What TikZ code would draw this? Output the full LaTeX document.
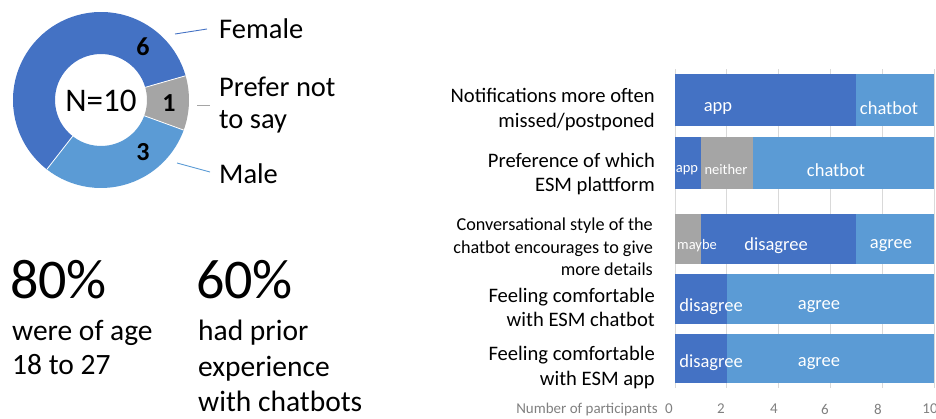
\documentclass[tikz,border=0pt]{standalone}
\usepackage{fontspec}
\setmainfont{Carlito}
\definecolor{dblue}{HTML}{4472C4}
\definecolor{lblue}{HTML}{5B9BD5}
\definecolor{gry}{HTML}{A5A5A5}
\definecolor{gridc}{HTML}{D9D9D9}
\definecolor{axtxt}{HTML}{808080}
\begin{document}
\begin{tikzpicture}[x=1pt,y=-1pt,
  qlab/.style={anchor=base east,inner sep=0pt,font=\fontsize{20.6}{24}\selectfont},
  qlabs/.style={anchor=base east,inner sep=0pt,font=\fontsize{18.2}{22}\selectfont},
  bt/.style={text=white,inner sep=0pt,font=\fontsize{18.5}{22}\selectfont},
  bts/.style={text=white,inner sep=0pt,font=\fontsize{14.5}{17}\selectfont},
  axn/.style={text=axtxt,inner sep=0pt,font=\fontsize{15}{17}\selectfont},
  leg/.style={anchor=base west,inner sep=0pt,font=\fontsize{28.5}{32}\selectfont},
  big/.style={anchor=base west,inner sep=0pt,font=\fontsize{56}{62}\selectfont},
  mid/.style={anchor=base west,inner sep=0pt,font=\fontsize{29.5}{34}\selectfont},
  num/.style={inner sep=0pt,font=\fontsize{26}{30}\selectfont\bfseries},
  gridline/.style={draw=gridc,line width=0.8pt},
  leader/.style={line width=0.9pt}]
\useasboundingbox (0,0) rectangle (936,418);

% ---------------- donut ----------------
\begin{scope}[shift={(101,100)},yscale=-1]
  \fill[dblue] (16:88) arc[start angle=16,end angle=232,radius=88]
     -- (232:46) arc[start angle=232,end angle=16,radius=46] -- cycle;
  \fill[lblue] (232:88) arc[start angle=232,end angle=340,radius=88]
     -- (340:46) arc[start angle=340,end angle=232,radius=46] -- cycle;
  \fill[gry] (340:88) arc[start angle=340,end angle=376,radius=88]
     -- (16:46) arc[start angle=376,end angle=340,radius=46] -- cycle;
  \draw[white,line width=0.8pt] (16:46) -- (16:88) (232:46) -- (232:88) (340:46) -- (340:88);
\end{scope}
\node[inner sep=0pt,font=\fontsize{33}{38}\selectfont] (n10) at (101,101) {N=10};
\node[num] (n6) at (143,47) {6};
\node[num] (n1) at (169,103) {1};
\node[num] (n3) at (143,152) {3};

\node[leg] (fem) at (219,38) {Female};
\node[leg] (pref1) at (219,96) {Prefer not};
\node[leg] (pref2) at (219,128) {to say};
\node[leg] (male) at (219,183) {Male};

\coordinate (fa) at (175,34); \coordinate (fb) at (207,29);
\coordinate (pa) at (197,105); \coordinate (pb) at (210,105);
\coordinate (ma) at (177,163); \coordinate (mb) at (210,172);
\draw[leader,dblue] (fa) -- (fb);
\draw[leader,gry] (pa) -- (pb);
\draw[leader,lblue] (ma) -- (mb);

% ---------------- stats ----------------
\node[big] (p80) at (10,298) {80\%};
\node[mid] (a1) at (12,340) {were of age};
\node[mid] (a2) at (12,374) {18 to 27};
\node[big] (p60) at (196,298) {60\%};
\node[mid] (c1) at (198,340) {had prior};
\node[mid] (c2) at (198,376) {experience};
\node[mid] (c3) at (198,411) {with chatbots};

% ---------------- bar chart ----------------
\begin{scope}[shift={(675,0)},x=25.9pt]
  \foreach \v in {0,2,4,6,8,10} \draw[gridline] (\v,69) -- (\v,388);
  \fill[dblue] (0,74) rectangle (7,126);
  \fill[lblue] (7,74) rectangle (10,126);
  \fill[dblue] (0,137) rectangle (1,189);
  \fill[gry]   (1,137) rectangle (3,189);
  \fill[lblue] (3,137) rectangle (10,189);
  \fill[gry]   (0,214) rectangle (1,264);
  \fill[dblue] (1,214) rectangle (7,264);
  \fill[lblue] (7,214) rectangle (10,264);
  \fill[dblue] (0,274) rectangle (2,324);
  \fill[lblue] (2,274) rectangle (10,324);
  \fill[dblue] (0,334) rectangle (2,383);
  \fill[lblue] (2,334) rectangle (10,383);
\end{scope}

\node[bt] (b1a) at (718,108) {app};
\node[bt] (b1c) at (889,108) {chatbot};
\node[bts] (b2a) at (687,170) {app};
\node[bts] (b2n) at (726,170) {neither};
\node[bt] (b2c) at (836,170) {chatbot};
\node[bts] (b3m) at (697,246) {maybe};
\node[bt] (b3d) at (776,246) {disagree};
\node[bt] (b3a) at (891,246) {agree};
\node[bt] (b4d) at (711,307) {disagree};
\node[bt] (b4a) at (819,307) {agree};
\node[bt] (b5d) at (711,363) {disagree};
\node[bt] (b5a) at (819,364) {agree};

\node[qlab] (q1a) at (655,102) {Notifications more often};
\node[qlab] (q1b) at (655,127) {missed/postponed};
\node[qlab] (q2a) at (655,167) {Preference of which};
\node[qlab] (q2b) at (655,191) {ESM plattform};
\node[qlabs] (q3a) at (653,230) {Conversational style of the};
\node[qlabs] (q3b) at (653,253) {chatbot encourages to give};
\node[qlabs] (q3c) at (653,275) {more details};
\node[qlab] (q4a) at (655,302) {Feeling comfortable};
\node[qlab] (q4b) at (655,326) {with ESM chatbot};
\node[qlab] (q5a) at (655,360) {Feeling comfortable};
\node[qlab] (q5b) at (655,385) {with ESM app};

\node[axn,anchor=east] (axt) at (658,409) {Number of participants};
\node[axn] (x0) at (669,409) {0};
\node[axn] (x2) at (721,409) {2};
\node[axn] (x4) at (774,409) {4};
\node[axn] (x6) at (825,409) {6};
\node[axn] (x8) at (878,409) {8};
\node[axn] (x10) at (930,409) {10};
\end{tikzpicture}
\end{document}
